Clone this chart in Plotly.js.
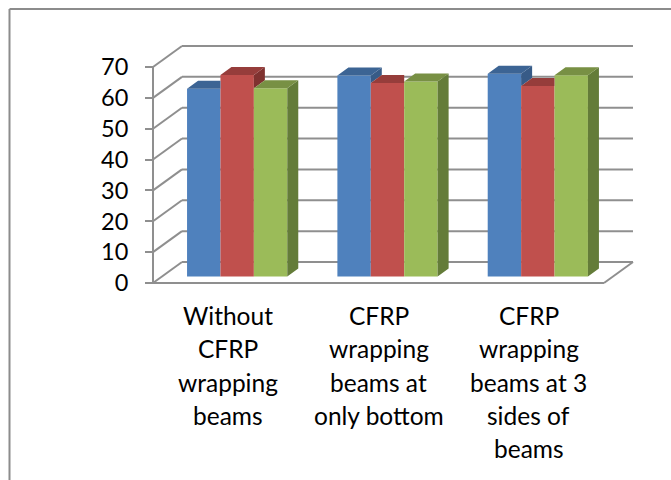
<!DOCTYPE html>
<html>
<head>
<meta charset="utf-8">
<script src="https://cdn.plot.ly/plotly-3.0.1.min.js"></script>
<style>html,body{margin:0;padding:0;background:#fff;overflow:hidden}</style>
</head>
<body>
<div id="chart" style="width:671px;height:480px"></div>
<script>
// ---- data ----
const categories = ["Without CFRP wrapping beams", "CFRP wrapping beams at only bottom", "CFRP wrapping beams at 3 sides of beams"];
const categoryLines = [
  ["Without", "CFRP", "wrapping", "beams"],
  ["CFRP", "wrapping", "beams at", "only bottom"],
  ["CFRP", "wrapping", "beams at 3", "sides of", "beams"]
];
const seriesA = [60.8, 65.1, 65.7];
const seriesB = [65.3, 62.7, 61.7];
const seriesC = [61.0, 63.2, 65.2];
const yTicks = [0, 10, 20, 30, 40, 50, 60, 70];

// ---- styles ----
const frontColors = ["#4F81BD", "#C0504D", "#9BBB59"];
const topColors = ["#3C6494", "#963D3B", "#789044"];
const sideColors = ["#375B87", "#7F3230", "#647C39"];
const gridColor = "#8F8F8F";

// ---- page geometry (pixels) ----
const W = 671, H = 480;
const axisLeft = 153, axisBottom = 283;
const pxPerCat = 150.33, pxPerVal = 3.086;
const X = p => p / pxPerCat, Y = p => p / pxPerVal;
const wallDX = X(29), wallDY = Y(21);      // depth of the whole floor
const gapDX = X(9), gapDY = Y(6.5);        // floor edge to bar front
const barDX = X(11), barDY = Y(8);         // depth of a bar
const bargap = 1 / 3, barW = (1 - bargap) / 3;
const series = [seriesA, seriesB, seriesC];

const traces = [];
// front faces
series.forEach((vals, s) => traces.push({
  type: "bar",
  x: categories.map((c, i) => i + 0.5 + gapDX),
  y: vals,
  base: vals.map(() => gapDY),
  marker: {color: frontColors[s], line: {width: 0}},
  hoverinfo: "y",
  showlegend: false
}));
// side and top faces, clipped where the next bar stands in front
series.forEach((vals, s) => {
  const next = series[s + 1];
  const sx = [], sy = [], tx = [], ty = [];
  vals.forEach((v, i) => {
    const left = i + 0.5 + gapDX - 1.5 * barW + s * barW, right = left + barW;
    const t = v + gapDY, nt = next ? next[i] + gapDY : gapDY;
    if (t > nt) {
      sx.push(right, right + barDX, right + barDX, right, right, null);
      sy.push(t, t + barDY, nt + barDY, nt, t, null);
    }
    const backRight = (t > nt) ? right + barDX : right;
    tx.push(left, left + barDX, backRight, right, left, null);
    ty.push(t, t + barDY, t + barDY, t, t, null);
  });
  traces.push({type: "scatter", mode: "lines", x: sx, y: sy, fill: "toself", fillcolor: sideColors[s],
    line: {width: 0, color: sideColors[s]}, hoverinfo: "skip", showlegend: false});
  traces.push({type: "scatter", mode: "lines", x: tx, y: ty, fill: "toself", fillcolor: topColors[s],
    line: {width: 0, color: topColors[s]}, hoverinfo: "skip", showlegend: false});
});

// walls and floor
const n = categories.length;
const gridLine = (x0, y0, x1, y1) => ({type: "line", xref: "x", yref: "y", x0, y0, x1, y1, layer: "below",
  line: {color: gridColor, width: 2}});
const shapes = [];
yTicks.forEach(v => {
  shapes.push(gridLine(0, v, wallDX, v + wallDY));
  shapes.push(gridLine(wallDX, v + wallDY, n + wallDX, v + wallDY));
});
shapes.push(gridLine(0, yTicks[0], 0, yTicks[yTicks.length - 1]));
shapes.push(gridLine(0, 0, n, 0));
shapes.push(gridLine(n, 0, n + wallDX, wallDY));
// chart frame (its right and bottom edges fall outside the picture)
const frame = {color: "#8C8C8C", width: 2};
shapes.push({type: "line", xref: "paper", yref: "paper", x0: 9.5 / W, x1: 1, y0: 1 - 9 / H, y1: 1 - 9 / H, line: frame});
shapes.push({type: "line", xref: "paper", yref: "paper", x0: 9.5 / W, x1: 9.5 / W, y0: 0, y1: 1 - 9 / H, line: frame});

const tickFont = {family: "Lato, 'Open Sans', sans-serif", size: 23.5, color: "#000"};
const catFont = {family: "Lato, 'Open Sans', sans-serif", size: 24.5, color: "#000"};

// category labels, one annotation per line for the wide line spacing
const annotations = [];
categoryLines.forEach((lines, i) => lines.forEach((text, k) => annotations.push({
  xref: "x", yref: "paper", x: i + 0.5, y: 1 - (315.5 + 33.3 * k) / H,
  text, showarrow: false, xanchor: "center", yanchor: "middle", font: catFont, borderpad: 0
})));

const layout = {
  width: W, height: H,
  margin: {l: 0, r: 0, t: 0, b: 0},
  paper_bgcolor: "#fff", plot_bgcolor: "#fff",
  showlegend: false,
  barmode: "group", bargap, bargroupgap: 0,
  xaxis: {
    range: [X(-axisLeft), X(W - axisLeft)], showgrid: false, zeroline: false, showline: false,
    ticks: "", showticklabels: false, fixedrange: true, tickvals: [0.5, 1.5, 2.5]
  },
  yaxis: {
    range: [Y(axisBottom - H), Y(axisBottom)], anchor: "free", position: axisLeft / W,
    showgrid: false, zeroline: false, showline: false,
    tickmode: "array", tickvals: yTicks, ticktext: yTicks.map(String),
    ticks: "outside", ticklen: 8, tickwidth: 2, tickcolor: gridColor,
    ticklabelstandoff: 12, tickfont: tickFont, fixedrange: true
  },
  shapes, annotations
};
Plotly.newPlot("chart", traces, layout, {displayModeBar: false, staticPlot: false});
</script>
</body>
</html>
